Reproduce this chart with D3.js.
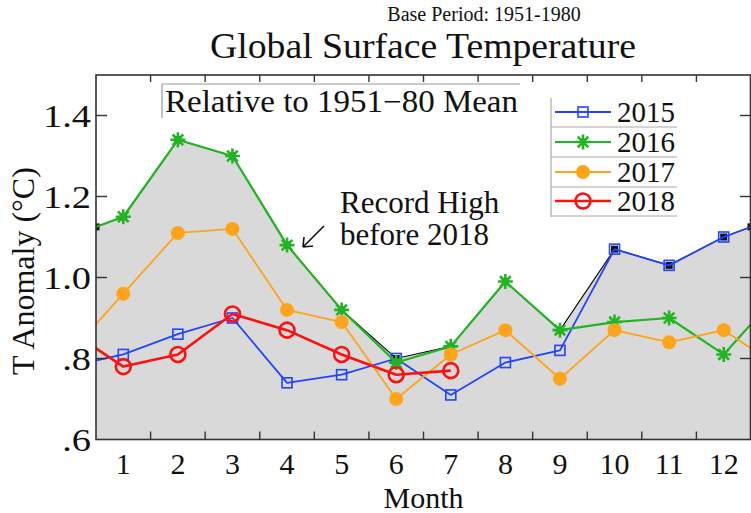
<!DOCTYPE html>
<html>
<head>
<meta charset="utf-8">
<script src="https://cdn.jsdelivr.net/npm/d3@7"></script>
<style>
  html, body { margin: 0; padding: 0; background: #fff; }
  svg text { font-family: "Liberation Serif", "DejaVu Serif", serif; fill: #111; }
</style>
</head>
<body>
<svg id="chart" width="751" height="513"></svg>
<script>
// ---------------- data ----------------
const months = [1, 2, 3, 4, 5, 6, 7, 8, 9, 10, 11, 12];
const monthLabels = ["1", "2", "3", "4", "5", "6", "7", "8", "9", "10", "11", "12"];
const yTicks = [0.6, 0.8, 1.0, 1.2, 1.4];
const yTickLabels = [".6", ".8", "1.0", "1.2", "1.4"];
const years = ["2015", "2016", "2017", "2018"];

const t2015 = [0.81, 0.86, 0.90, 0.74, 0.76, 0.80, 0.71, 0.79, 0.82, 1.07, 1.03, 1.10];
const t2016 = [1.15, 1.34, 1.30, 1.08, 0.92, 0.79, 0.83, 0.99, 0.87, 0.89, 0.90, 0.81];
const t2017 = [0.96, 1.11, 1.12, 0.92, 0.89, 0.70, 0.81, 0.87, 0.75, 0.87, 0.84, 0.87];
const t2018 = [0.78, 0.81, 0.91, 0.87, 0.81, 0.76, 0.77];

// December of the preceding year and January of the following year
const priorDec = [0.78, 1.10, 0.81, 0.87];
const nextJan = [1.15, 0.96, 0.78, null];

// record high (before 2018) for each month
const recordHigh = [1.15, 1.34, 1.30, 1.08, 0.92, 0.80, 0.83, 0.99, 0.87, 1.07, 1.03, 1.10];
const recordPriorDec = 1.10;
const recordNextJan = 1.15;

// ---------------- layout ----------------
const svg = d3.select("#chart");
const L = 96, R = 751, T = 75, B = 439.5;
const x = d3.scaleLinear().domain([0.5, 12.5]).range([L, R]);
const y = d3.scaleLinear().domain([0.6, 1.5]).range([B, T]);

const colors = ["#2244ff", "#22b422", "#ffa31a", "#ff1010"];
const widths = [1.8, 2.2, 1.8, 2.6];
const seriesVals = [t2015, t2016, t2017, t2018];

svg.append("defs").append("clipPath").attr("id", "plotclip")
  .append("rect").attr("x", L).attr("y", T).attr("width", R - L).attr("height", B - T);

const plot = svg.append("g").attr("clip-path", "url(#plotclip)");

// build point lists (month 0 = previous Dec, month 13 = next Jan)
function pts(vals, prev, next) {
  const p = [[0, prev]].concat(vals.map((v, i) => [months[i], v]));
  if (next !== null && next !== undefined) p.push([13, next]);
  return p;
}
const recPts = pts(recordHigh, recordPriorDec, recordNextJan);

// gray area under the record high
plot.append("path")
  .datum(recPts)
  .attr("fill", "#d9d9d9")
  .attr("d", d3.area().x(d => x(d[0])).y0(B).y1(d => y(d[1])));

// record line
plot.append("path")
  .datum(recPts)
  .attr("fill", "none").attr("stroke", "#000").attr("stroke-width", 1.1)
  .attr("d", d3.line().x(d => x(d[0])).y(d => y(d[1])));

// record markers (small black squares), including the edge crossings
const edgeL = d3.interpolateNumber(recordPriorDec, recordHigh[0])(0.5);
const edgeR = d3.interpolateNumber(recordHigh[11], recordNextJan)(0.5);
const recMarks = recordHigh.map((v, i) => [months[i], v]).concat([[0.5, edgeL], [12.5, edgeR]]);
plot.selectAll("rect.rec").data(recMarks).join("rect")
  .attr("class", "rec")
  .attr("x", d => x(d[0]) - 3.5).attr("y", d => y(d[1]) - 3.5)
  .attr("width", 7).attr("height", 7).attr("fill", "#111");

// marker drawing
function marker(g, k, cx, cy) {
  const c = colors[k];
  if (k === 0) {
    g.append("rect").attr("x", cx - 5).attr("y", cy - 5).attr("width", 10).attr("height", 10)
      .attr("fill", "none").attr("stroke", c).attr("stroke-width", 1.6);
  } else if (k === 1) {
    const r = 7.5;
    let d = "";
    for (let a = 0; a < 4; a++) {
      const ang = a * Math.PI / 4;
      const dx = r * Math.cos(ang), dy = r * Math.sin(ang);
      d += `M${cx - dx},${cy - dy}L${cx + dx},${cy + dy}`;
    }
    g.append("path").attr("d", d).attr("stroke", c).attr("stroke-width", 2.6).attr("fill", "none");
  } else if (k === 2) {
    g.append("circle").attr("cx", cx).attr("cy", cy).attr("r", 7).attr("fill", c);
  } else {
    g.append("circle").attr("cx", cx).attr("cy", cy).attr("r", 7.5)
      .attr("fill", "none").attr("stroke", c).attr("stroke-width", 2.6);
  }
}

seriesVals.forEach((vals, k) => {
  const g = plot.append("g");
  g.append("path")
    .datum(pts(vals, priorDec[k], nextJan[k]))
    .attr("fill", "none").attr("stroke", colors[k]).attr("stroke-width", widths[k])
    .attr("stroke-linejoin", "round")
    .attr("d", d3.line().x(d => x(d[0])).y(d => y(d[1])));
  vals.forEach((v, i) => marker(g, k, x(months[i]), y(v)));
});

// ---------------- frame & ticks ----------------
const axisColor = "#333";
svg.append("rect").attr("x", L).attr("y", T).attr("width", R - L - 0.5).attr("height", B - T)
  .attr("fill", "none").attr("stroke", axisColor).attr("stroke-width", 1.6);

const halfTicks = months.slice(0, 11).map(m => m + 0.5);
svg.selectAll("line.xb").data(halfTicks).join("line")
  .attr("x1", d => x(d)).attr("x2", d => x(d)).attr("y1", B).attr("y2", B - 8)
  .attr("stroke", axisColor).attr("stroke-width", 1.4);
svg.selectAll("line.xt").data(halfTicks).join("line")
  .attr("x1", d => x(d)).attr("x2", d => x(d)).attr("y1", T).attr("y2", T + 7)
  .attr("stroke", axisColor).attr("stroke-width", 1.4);
const innerY = yTicks.slice(1);
svg.selectAll("line.yl").data(innerY).join("line")
  .attr("x1", L).attr("x2", L + 11).attr("y1", d => y(d)).attr("y2", d => y(d))
  .attr("stroke", axisColor).attr("stroke-width", 1.4);
svg.selectAll("line.yr").data(innerY).join("line")
  .attr("x1", R).attr("x2", R - 11).attr("y1", d => y(d)).attr("y2", d => y(d))
  .attr("stroke", axisColor).attr("stroke-width", 1.4);

// tick labels
svg.selectAll("text.yl").data(yTicks).join("text")
  .attr("transform", d => `translate(91,${y(d) + 11}) scale(1.2,1)`)
  .attr("text-anchor", "end").attr("font-size", 32)
  .text((d, i) => yTickLabels[i]);
svg.selectAll("text.xl").data(months).join("text")
  .attr("x", d => x(d)).attr("y", 474)
  .attr("text-anchor", "middle").attr("font-size", 30)
  .text((d, i) => monthLabels[i]);

// axis titles
svg.append("text").attr("x", (L + R) / 2).attr("y", 508).attr("text-anchor", "middle")
  .attr("font-size", 30).text("Month");
svg.append("text").attr("transform", "translate(34,271) rotate(-90)").attr("text-anchor", "middle")
  .attr("font-size", 32).text("T Anomaly (°C)");

// titles
svg.append("text").attr("x", 423).attr("y", 58).attr("text-anchor", "middle")
  .attr("font-size", 36).attr("textLength", 426).attr("lengthAdjust", "spacingAndGlyphs")
  .text("Global Surface Temperature");
svg.append("text").attr("x", 484).attr("y", 21).attr("text-anchor", "middle")
  .attr("font-size", 20).text("Base Period: 1951-1980");

// "Relative to" box
svg.append("path").attr("d", "M162,118V84H520").attr("fill", "none")
  .attr("stroke", "#999").attr("stroke-width", 1.2);
svg.append("text").attr("x", 165).attr("y", 112).attr("font-size", 31)
  .attr("textLength", 353).attr("lengthAdjust", "spacingAndGlyphs")
  .text("Relative to 1951\u221280 Mean");

// annotation
svg.append("text").attr("x", 340).attr("y", 213).attr("font-size", 31).text("Record High");
svg.append("text").attr("x", 340).attr("y", 245).attr("font-size", 31).text("before 2018");
svg.append("path").attr("d", "M324,226L303,247M303,247L304,237M303,247L313,246")
  .attr("stroke", "#111").attr("stroke-width", 1.6).attr("fill", "none");

// legend
const lg = svg.append("g");
const rowY = [112, 142, 172, 201];
lg.append("path").attr("d", "M551,98V217").attr("stroke", "#aaa").attr("stroke-width", 1.2);
rowY.forEach((ry, k) => {
  lg.append("line").attr("x1", 551).attr("x2", 677).attr("y1", ry + 15).attr("y2", ry + 15)
    .attr("stroke", "#aaa").attr("stroke-width", 1.2);
  lg.append("line").attr("x1", 555).attr("x2", 611).attr("y1", ry).attr("y2", ry)
    .attr("stroke", colors[k]).attr("stroke-width", widths[k]);
  marker(lg, k, 583, ry);
  lg.append("text").attr("x", 617).attr("y", ry + 10).attr("font-size", 29).text(years[k]);
});
</script>
</body>
</html>
